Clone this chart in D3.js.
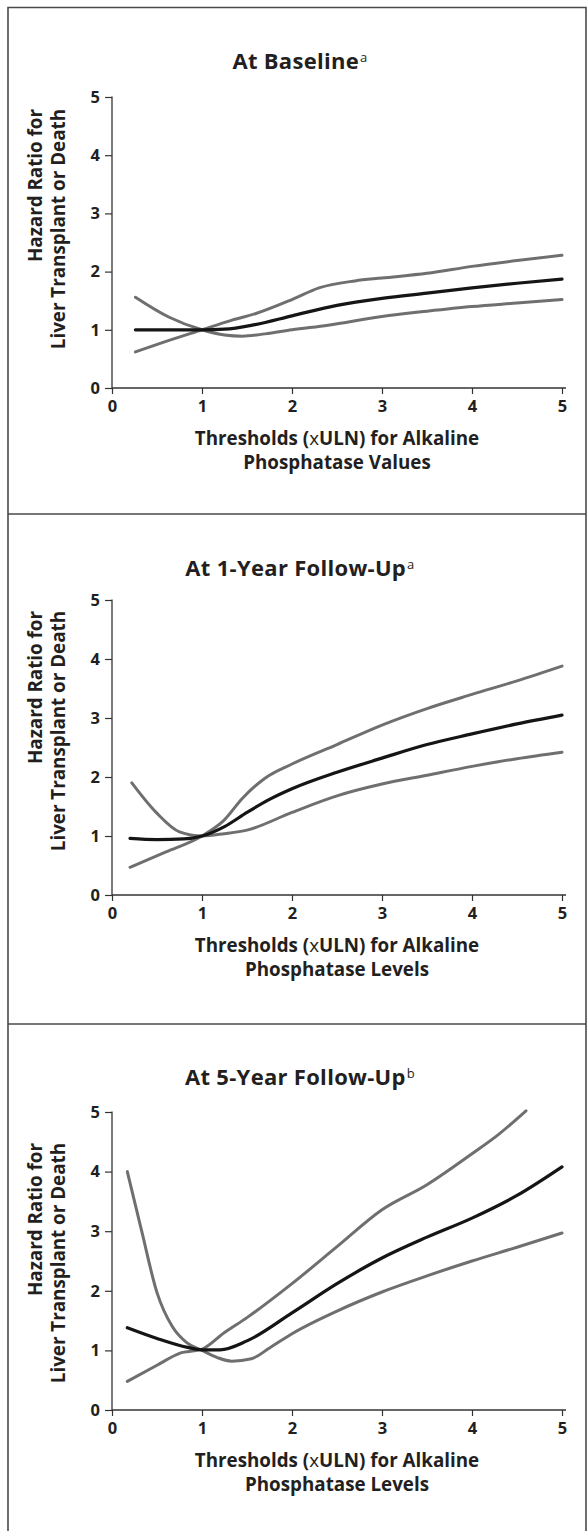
<!DOCTYPE html>
<html>
<head>
<meta charset="utf-8">
<script src="https://cdn.jsdelivr.net/npm/d3@7"></script>
<style>
  body { margin: 0; background: #fff; }
  text { font-family: "Open Sans", sans-serif; fill: #231f20; }
</style>
</head>
<body>
<svg id="chart" width="587" height="1531"></svg>
<script>
// ---- data ----
const titles = ["At Baseline", "At 1-Year Follow-Up", "At 5-Year Follow-Up"];
const titleNotes = ["a", "a", "b"];
const xTitleTop = "Thresholds (", xTitleX = "x", xTitleRest = "ULN) for Alkaline";
const xTitleBottom = ["Phosphatase Values", "Phosphatase Levels", "Phosphatase Levels"];
const yTitleLines = ["Hazard Ratio for", "Liver Transplant or Death"];
const xTicks = [0, 1, 2, 3, 4, 5];
const yTicks = [0, 1, 2, 3, 4, 5];

// [threshold xULN, hazard ratio]
const baseEstimate = [[0.26,1.00],[0.6,1.00],[1.0,1.00],[1.25,1.01],[1.59,1.09],[2.0,1.24],[2.5,1.42],[3.0,1.54],[3.5,1.63],[4.0,1.72],[4.5,1.80],[5.0,1.87]];
const baseCiA = [[0.26,0.62],[0.6,0.80],[1.0,1.00],[1.3,1.15],[1.6,1.28],[2.0,1.52],[2.3,1.72],[2.7,1.84],[3.0,1.89],[3.5,1.97],[4.0,2.09],[4.5,2.19],[5.0,2.28]];
const baseCiB = [[0.26,1.56],[0.63,1.22],[1.0,1.00],[1.25,0.91],[1.45,0.89],[1.7,0.93],[2.0,1.00],[2.4,1.08],[3.0,1.23],[3.5,1.32],[4.0,1.40],[4.5,1.46],[5.0,1.52]];

const y1Estimate = [[0.2,0.96],[0.5,0.94],[0.8,0.95],[1.0,1.00],[1.25,1.16],[1.5,1.40],[1.75,1.62],[2.0,1.80],[2.5,2.08],[3.0,2.32],[3.5,2.55],[4.0,2.73],[4.5,2.90],[5.0,3.05]];
const y1CiA = [[0.2,0.47],[0.6,0.73],[1.0,1.00],[1.24,1.26],[1.45,1.64],[1.7,1.98],[2.0,2.22],[2.5,2.55],[3.0,2.88],[3.5,3.16],[4.0,3.40],[4.5,3.63],[5.0,3.88]];
const y1CiB = [[0.22,1.90],[0.49,1.40],[0.75,1.07],[1.0,1.00],[1.25,1.04],[1.5,1.10],[2.0,1.40],[2.5,1.68],[3.0,1.88],[3.5,2.03],[4.0,2.18],[4.5,2.31],[5.0,2.42]];

const y5Estimate = [[0.17,1.38],[0.5,1.20],[0.84,1.05],[1.0,1.01],[1.2,1.01],[1.5,1.16],[2.0,1.63],[2.5,2.12],[3.0,2.55],[3.5,2.90],[4.0,3.22],[4.5,3.60],[5.0,4.08]];
const y5CiA = [[0.17,0.48],[0.5,0.75],[0.75,0.95],[1.0,1.02],[1.25,1.30],[1.5,1.55],[2.0,2.12],[2.5,2.74],[3.0,3.36],[3.5,3.78],[4.0,4.30],[4.3,4.63],[4.6,5.02]];
const y5CiB = [[0.17,4.00],[0.33,3.00],[0.5,1.97],[0.67,1.40],[0.83,1.13],[1.0,1.00],[1.17,0.88],[1.33,0.82],[1.55,0.86],[1.75,1.04],[2.0,1.28],[2.5,1.66],[3.0,1.98],[3.5,2.25],[4.0,2.50],[4.5,2.73],[5.0,2.97]];

const estimates = [baseEstimate, y1Estimate, y5Estimate];
const bandsA = [baseCiA, y1CiA, y5CiA];
const bandsB = [baseCiB, y1CiB, y5CiB];

// ---- layout ----
const layout = [
  { titleY: 69,   top: 97,   bottom: 388,  yTitleEnd: 109 },
  { titleY: 576,  top: 600,  bottom: 895,  yTitleEnd: 611 },
  { titleY: 1085, top: 1112, bottom: 1410, yTitleEnd: 1143 }
];
const plotLeft = 112, plotRight = 562;

const svg = d3.select("#chart");

// frame
svg.append("path")
  .attr("d", "M8,1531 V7.5 H586 V1531 M8,514 H586 M8,1024 H586")
  .attr("fill", "none")
  .attr("stroke", "#4a4a4a")
  .attr("stroke-width", 1.6);

const x = d3.scaleLinear().domain([0, 5]).range([plotLeft, plotRight]);

const line = d3.line()
  .x(d => x(d[0]))
  .curve(d3.curveMonotoneX);

layout.forEach((p, i) => {
  const g = svg.append("g");
  const y = d3.scaleLinear().domain([0, 5]).range([p.bottom, p.top]);
  line.y(d => y(d[1]));

  // title
  const t = g.append("text")
    .attr("x", 300)
    .attr("y", p.titleY)
    .attr("text-anchor", "middle")
    .style("font-size", "22px")
    .style("font-weight", "700")
    .style("letter-spacing", "0.3px");
  t.append("tspan").text(titles[i]);
  t.append("tspan")
    .attr("dx", 1)
    .attr("dy", -7)
    .style("font-size", "13px")
    .style("font-weight", "400")
    .text(titleNotes[i]);

  // axes
  const xAxis = g.append("g")
    .attr("transform", `translate(0,${p.bottom})`)
    .call(d3.axisBottom(x).tickValues(xTicks).tickFormat(d3.format("d"))
      .tickSize(6).tickPadding(6).tickSizeOuter(0));
  const yAxis = g.append("g")
    .attr("transform", `translate(${plotLeft},0)`)
    .call(d3.axisLeft(y).tickValues(yTicks).tickFormat(d3.format("d"))
      .tickSize(7).tickPadding(5).tickSizeOuter(0));
  [xAxis, yAxis].forEach(a => {
    a.select(".domain").remove();
    a.selectAll("line").attr("stroke", "#333").attr("stroke-width", 1.2);
    a.selectAll("text")
      .style("font-family", "'Open Sans', sans-serif")
      .style("font-size", "16.5px")
      .style("font-weight", "700")
      .attr("fill", "#231f20");
  });
  g.append("line")
    .attr("x1", plotLeft).attr("x2", plotRight + 4)
    .attr("y1", p.bottom).attr("y2", p.bottom)
    .attr("stroke", "#333").attr("stroke-width", 1.3);
  g.append("line")
    .attr("x1", plotLeft).attr("x2", plotLeft)
    .attr("y1", p.top - 0.5).attr("y2", p.bottom)
    .attr("stroke", "#333").attr("stroke-width", 1.3);

  // axis titles
  const xt = g.append("text")
    .attr("x", (plotLeft + plotRight) / 2)
    .attr("y", p.bottom + 57)
    .attr("text-anchor", "middle")
    .style("font-size", "18.8px")
    .style("font-weight", "700");
  xt.append("tspan").text(xTitleTop);
  xt.append("tspan").style("font-weight", "400").text(xTitleX);
  xt.append("tspan").text(xTitleRest);
  g.append("text")
    .attr("x", (plotLeft + plotRight) / 2)
    .attr("y", p.bottom + 81)
    .attr("text-anchor", "middle")
    .style("font-size", "18.8px")
    .style("font-weight", "700")
    .text(xTitleBottom[i]);

  yTitleLines.forEach((s, k) => {
    g.append("text")
      .attr("transform", `translate(${42 + k * 23},${p.yTitleEnd}) rotate(-90)`)
      .attr("text-anchor", "end")
      .style("font-size", "18.8px")
      .style("font-weight", "700")
      .text(s);
  });

  // curves
  [bandsA[i], bandsB[i]].forEach(d => {
    g.append("path")
      .attr("d", line(d))
      .attr("fill", "none")
      .attr("stroke", "#6f6f6f")
      .attr("stroke-width", 3)
      .attr("stroke-linecap", "round");
  });
  g.append("path")
    .attr("d", line(estimates[i]))
    .attr("fill", "none")
    .attr("stroke", "#151515")
    .attr("stroke-width", 3.2)
    .attr("stroke-linecap", "round");
});
</script>
</body>
</html>
